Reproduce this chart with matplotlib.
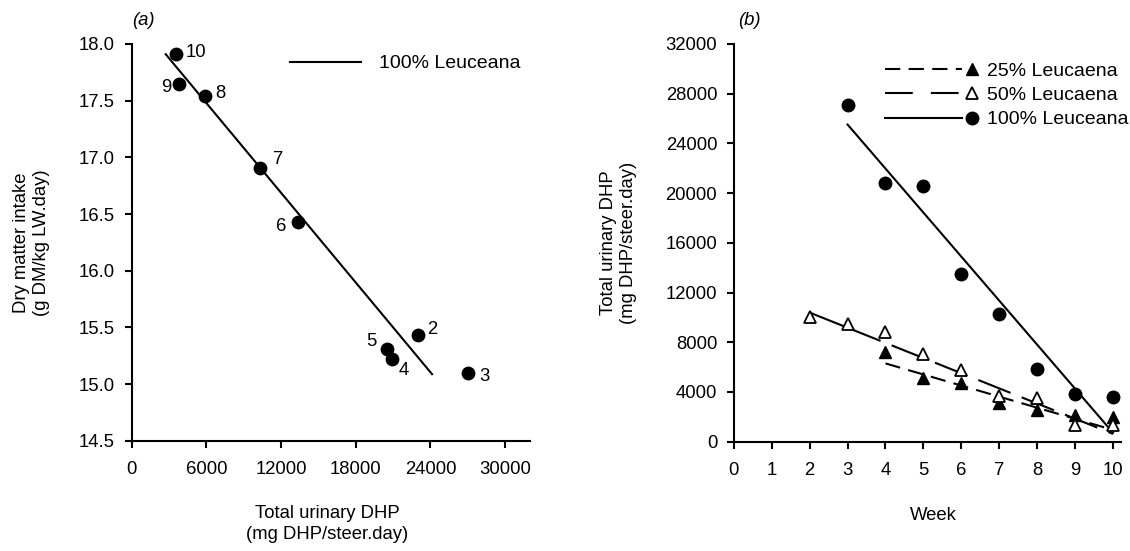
import numpy as np
import matplotlib
matplotlib.use("Agg")
import matplotlib.pyplot as plt
from matplotlib.legend_handler import HandlerLine2DCompound

plt.rcParams['font.family'] = ['Liberation Sans', 'DejaVu Sans']
plt.rcParams['font.size'] = 13.3
plt.rcParams['lines.scale_dashes'] = False

# panel (a): dry matter intake vs total urinary DHP, points labelled by week
dhp_a = [27020, 23020, 20880, 20480, 13380, 10310, 5890, 3800, 3560]
dmi_a = [15.10, 15.43, 15.22, 15.31, 16.43, 16.91, 17.54, 17.645, 17.91]
week_lbl = ["3", "2", "4", "5", "6", "7", "8", "9", "10"]
lbl_off = [(12, -3), (10, 4), (9, -8), (-11, 5), (-12, -3), (13, 6), (11, 2), (-9, -2), (14, 1)]
fit_a_x = [2730, 24130]
fit_a_y = [17.91, 15.087]

# panel (b): total urinary DHP by week
wk25 = [4, 5, 6, 7, 8, 9, 10]
dhp25 = [7230, 5090, 4690, 3080, 2550, 2150, 2010]
wk50 = [2, 3, 4, 5, 6, 7, 8, 9, 10]
dhp50 = [10040, 9450, 8830, 7040, 5760, 3670, 3490, 1340, 1340]
wk100 = [3, 4, 5, 6, 7, 8, 9, 10]
dhp100 = [27100, 20840, 20560, 13470, 10310, 5840, 3830, 3570]
fit25_x, fit25_y = [4, 10], [6300, 950]
fit50_x, fit50_y = [2, 10], [10390, 630]
fit100_x, fit100_y = [3, 10], [25520, 720]

W, H = 1130, 551
fig = plt.figure(figsize=(W / 100, H / 100), dpi=100)


def px_axes(l, t, r, b):
    return fig.add_axes([l / W, 1 - b / H, (r - l) / W, (b - t) / H])


def style(ax):
    for s in ['top', 'right']:
        ax.spines[s].set_visible(False)
    for s in ['left', 'bottom']:
        ax.spines[s].set_linewidth(1.5)
    ax.tick_params(direction='out', length=5, width=1.5, labelsize=13.3, pad=7)
    ax.tick_params(axis='x', pad=9.5)


class MarkerAtEnd(HandlerLine2DCompound):
    # line first, marker to the right of it
    def get_xdata(self, legend, xdescent, ydescent, width, height, fontsize):
        x0 = -xdescent
        return np.array([x0, x0 + width - 11.6]), np.array([x0 + width - 4.3])


# ---- (a)
ax1 = px_axes(131.7, 44, 530, 440.7)
style(ax1)
ax1.scatter(dhp_a, dmi_a, s=80, color='black', zorder=3)
ln, = ax1.plot(fit_a_x, fit_a_y, color='black', lw=1.5, label='100% Leuceana')
for x, y, t, o in zip(dhp_a, dmi_a, week_lbl, lbl_off):
    ax1.annotate(t, (x, y), xytext=o, textcoords='offset points',
                 ha='center', va='center')
ax1.set_xlim(0, 32000)
ax1.set_ylim(14.5, 18.0)
ax1.set_xticks(np.arange(0, 30001, 6000))
ax1.set_yticks(np.arange(14.5, 18.01, 0.5))
ax1.set_yticklabels([f"{v:.1f}" for v in np.arange(14.5, 18.01, 0.5)])
ax1.set_xlabel("Total urinary DHP\n(mg DHP/steer.day)", va='top', linespacing=1.3)
ax1.xaxis.set_label_coords(0.49, -0.163)
ax1.set_ylabel("Dry matter intake\n(g DM/kg LW.day)", va='center', linespacing=1.2)
ax1.yaxis.set_label_coords(-0.252, 0.5)
ax1.text(0.03, 1.06, "(a)", transform=ax1.transAxes, style='italic',
         ha='center', va='center')
ax1.legend(handles=[ln], loc='upper left', bbox_to_anchor=(0.397, 0.973), frameon=False,
           handlelength=3.64, handletextpad=0.93, fontsize=14, borderaxespad=0,
           borderpad=0)

# ---- (b)
ax2 = px_axes(733.8, 44, 1120.6, 441.7)
style(ax2)
ax2.plot(wk25, dhp25, ls='none', marker='^', ms=9, color='black', zorder=3)
ax2.plot(wk50, dhp50, ls='none', marker='^', ms=9, mfc='white', mec='black',
         mew=1.3, zorder=3)
ax2.plot(wk100, dhp100, ls='none', marker='o', ms=9, color='black', zorder=3)
ax2.plot(fit25_x, fit25_y, color='black', lw=1.5, dashes=(11, 6))
ax2.plot(fit50_x, fit50_y, color='black', lw=1.5,
         dashes=(55, 8.6) + (25, 8.6) * 6)
ax2.plot(fit100_x, fit100_y, color='black', lw=1.5)

h25, = ax2.plot([], [], color='black', lw=1.5, dashes=(11, 6), marker='^', ms=9,
                label='25% Leucaena')
h50, = ax2.plot([], [], color='black', lw=1.5, dashes=(20, 13), marker='^', ms=9,
                mfc='white', mec='black', mew=1.3, label='50% Leucaena')
h100, = ax2.plot([], [], color='black', lw=1.5, marker='o', ms=9, label='100% Leuceana')
ax2.legend(handles=[h25, h50, h100], loc='upper left', bbox_to_anchor=(0.391, 0.955),
           frameon=False, handlelength=4.79, handletextpad=0.46, fontsize=14,
           labelspacing=0.35, borderaxespad=0, borderpad=0,
           handler_map={h25: MarkerAtEnd(numpoints=1), h50: MarkerAtEnd(numpoints=1),
                        h100: MarkerAtEnd(numpoints=1)})

ax2.set_xlim(0, 10.2)
ax2.set_ylim(0, 32000)
ax2.set_xticks(range(0, 11))
ax2.set_yticks(np.arange(0, 32001, 4000))
ax2.set_xlabel("Week", va='top')
ax2.xaxis.set_label_coords(0.517, -0.163)
ax2.set_ylabel("Total urinary DHP\n(mg DHP/steer.day)", va='center', linespacing=1.2)
ax2.yaxis.set_label_coords(-0.298, 0.5)
ax2.text(0.039, 1.06, "(b)", transform=ax2.transAxes, style='italic',
         ha='center', va='center')

plt.savefig("out.png", dpi=100)
